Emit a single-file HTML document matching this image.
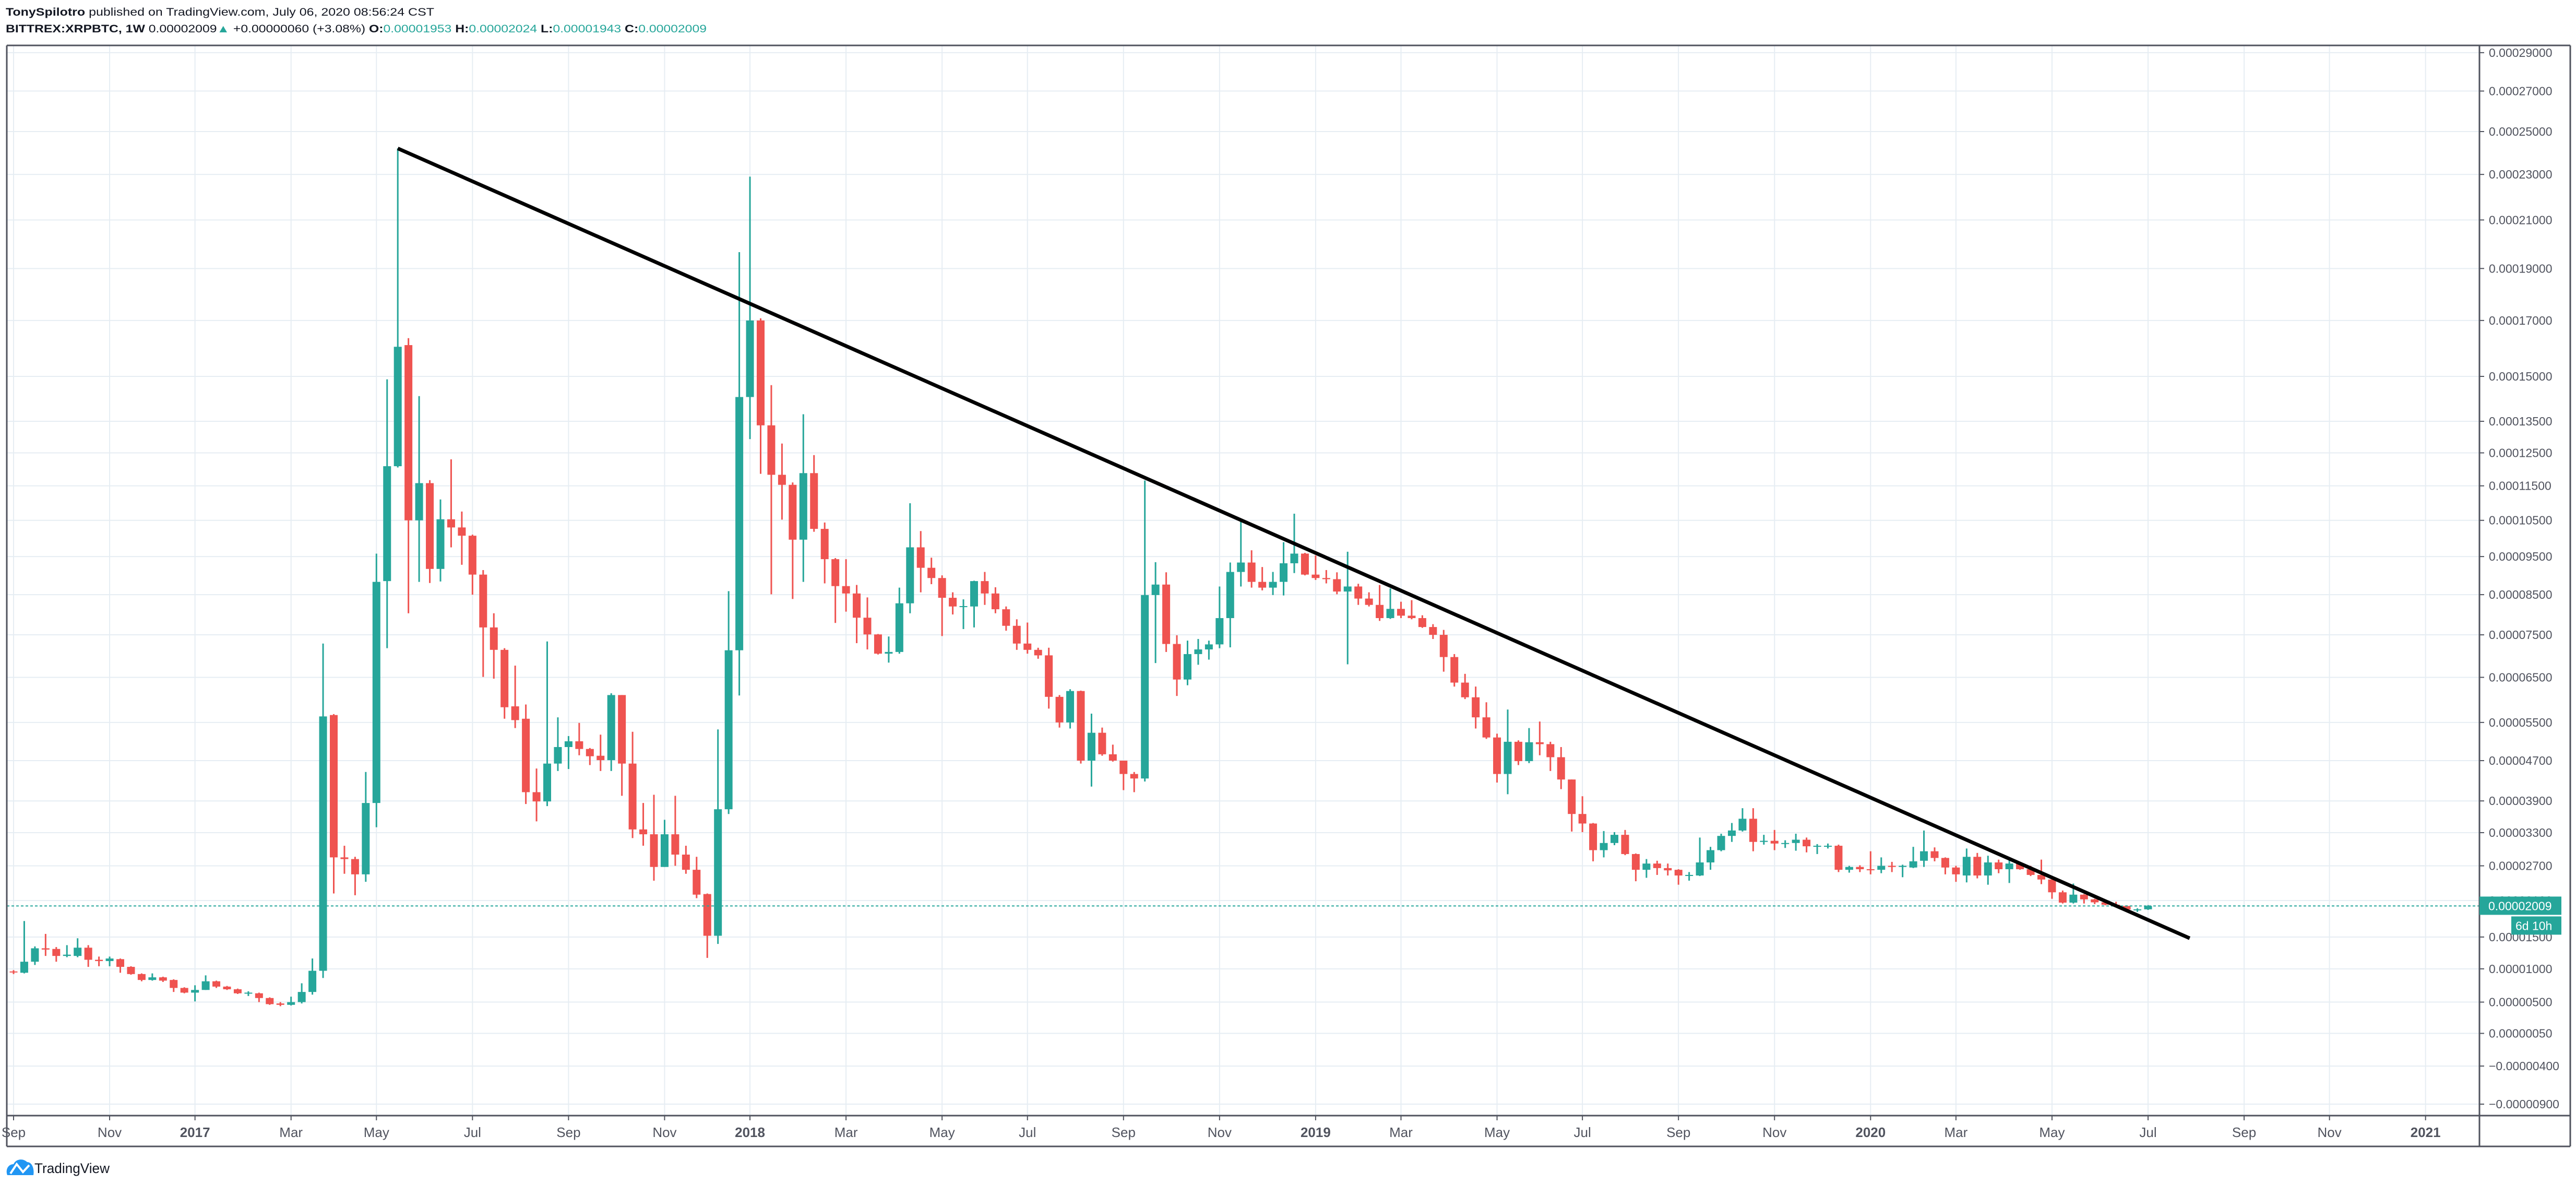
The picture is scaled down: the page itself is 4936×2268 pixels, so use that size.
<!DOCTYPE html>
<html><head><meta charset="utf-8"><style>
html,body{margin:0;padding:0;background:#fff;}
svg{display:block;}
text{font-family:"Liberation Sans",sans-serif;}
</style></head><body>
<svg id="chart" width="4936" height="2268" viewBox="0 0 4936 2268" xmlns="http://www.w3.org/2000/svg">
<rect x="0" y="0" width="4936" height="2268" fill="#ffffff"/>
<g>
<text x="11" y="30" font-size="21" fill="#131722" textLength="821" lengthAdjust="spacingAndGlyphs"><tspan font-weight="bold">TonySpilotro</tspan> published on TradingView.com, July 06, 2020 08:56:24 CST</text>
<text x="11" y="62" font-size="21" fill="#131722" textLength="1343" lengthAdjust="spacingAndGlyphs"><tspan font-weight="bold">BITTREX:XRPBTC, 1W</tspan> 0.00002009<tspan fill="#26a69a">▲</tspan> +0.00000060 (+3.08%) <tspan font-weight="bold">O:</tspan><tspan fill="#26a69a">0.00001953</tspan> <tspan font-weight="bold">H:</tspan><tspan fill="#26a69a">0.00002024</tspan> <tspan font-weight="bold">L:</tspan><tspan fill="#26a69a">0.00001943</tspan> <tspan font-weight="bold">C:</tspan><tspan fill="#26a69a">0.00002009</tspan></text>
</g>
<defs><clipPath id="plotclip"><rect x="13" y="88" width="4738" height="2048"/></clipPath></defs>
<g id="grid"></g>
<g id="candles" clip-path="url(#plotclip)"></g>
<g id="overlay" clip-path="url(#plotclip)"></g>
<g id="axes"></g>
<g>
<path d="M14 2251 C10 2240 16 2230 26 2230 C30 2220 44 2218 52 2226 C62 2226 66 2240 64 2251 Z" fill="#2196f3"/>
<polyline points="20,2248 32,2230 44,2245 56,2232" fill="none" stroke="#ffffff" stroke-width="4"/>
<text x="66" y="2247" font-size="27" fill="#131722" textLength="144" lengthAdjust="spacingAndGlyphs">TradingView</text>
</g>
</svg>
<script>
var opens=[9.6,9.4,11.1,13.2,13.1,12.0,12.0,13.3,11.4,11.2,11.5,10.3,9.2,8.3,8.7,8.3,7.1,6.4,6.8,8.1,7.3,6.9,6.3,6.3,5.6,4.8,4.6,5.0,6.5,9.7,56.6,28.5,28.2,25.5,38.6,88.5,120.9,161,105,115.8,91.7,105.3,103,100.7,90.2,76.8,71.4,58.5,55.8,40.7,38.9,46.4,49.8,51,49.4,48,47.1,61,46.4,33.6,32.7,26.8,32.7,29,26.3,22.1,15.2,37.4,71.3,143,170,133.7,118.3,115.3,99.6,118.8,102.6,94.3,87.2,85.3,79.2,75.1,70.5,70.9,82.8,97.5,92,89.3,84.2,82,82,88.5,85.3,81.3,77.2,72.9,71.4,70.1,60.6,55,61.9,47,52.8,48.3,47,44.3,43.4,84.9,87.6,72.8,64.5,70.4,71.5,72.7,79.1,90.9,93.4,88.3,86.8,88.3,93.2,95.8,90.2,89.3,89,85.8,87.1,84,82.4,79.1,81.4,79.7,79.1,76.9,75,69.7,63.8,60.5,56.1,51.8,44.3,50.9,46.9,50.8,50.4,47.7,43.2,36.5,34.7,29.8,31.1,32.6,29.1,26.3,27.4,26.6,26.3,25.3,25.3,27.6,29.8,32.4,33.4,35.6,31.3,31.5,31,31.1,31.7,30.5,30.6,30.6,26.3,26.8,26.4,26.3,27,26.8,26.7,27.9,29.6,28.4,26.7,25.3,28.6,25.3,27.6,26.4,27.4,26.4,25.4,24.6,22.4,20.65,22,21.2,20.7,20.3,20.1,19.5,19.53];
var highs=[9.8,17.6,13.5,15.5,13.4,13.7,14.8,13.7,11.9,11.9,11.6,10.4,9.3,9.3,8.8,8.4,7.2,7.5,9.0,8.2,7.4,7.0,6.6,6.4,5.7,5.0,5.8,7.8,11.6,72.9,56.8,30.6,28.6,44.7,95.8,149,242,163.5,143.3,116.7,111,123,107.5,101,91.4,80.3,71.8,67.7,58.9,45.4,73.4,56.1,52.1,54.9,49.6,52.4,61.4,61,53,38.6,40.2,35.4,40,30.6,28.6,22.2,53.5,85.9,196.6,229,170.8,147,127.9,116,137.3,124.3,104.4,94.6,94.3,87.5,84.3,75.2,74.6,86.8,109.9,102,94.7,90,85.6,83.8,88.6,90.9,86.9,82,78.8,78,71.9,71.9,61,62.3,62,56.9,53.9,50.3,47,44.7,116.6,93.5,90.8,74.9,73.6,74,73.6,87.1,93.4,104.7,96.7,92.2,90.9,98.9,106.9,96,95.3,91.4,90.8,96.3,87.8,85.6,87.5,86.6,83.2,83.6,79.8,77.6,76.2,70.4,65.8,62.9,59.4,52.6,57.8,51.2,53.8,55.2,50.9,49.8,43.2,39.9,34.8,33.3,33.1,33.5,29.2,28.2,27.9,27.4,26.4,25.9,32.1,30.4,32.8,34.8,37.6,37.6,32.6,33.5,31.6,32.8,32.1,30.9,31,30.8,27,27.1,29.6,28.5,27.7,27.2,30.4,33.4,30.3,28.5,27,30.1,29.3,28.8,28.1,28,27.6,27,28.1,24.7,22.7,23.9,22.1,21.3,20.9,20.8,20.2,19.7,20.24];
var lows=[9.2,9.3,10.6,12.0,11.1,11.8,11.8,10.3,10.4,10.4,9.4,9.1,8.1,8.2,8.0,6.5,6.3,5.1,6.8,7.1,6.8,6.2,5.9,5.0,4.6,4.4,4.5,4.8,6.1,8.6,22.2,25.6,21.9,24.2,34,71.8,120.5,80.3,88.3,88,88.4,97.5,92.8,85,65.1,64.7,55.8,53.8,38.4,35.1,38,44.9,45.3,48.1,46.1,44.9,44.9,40,32,30.6,24.4,26.8,27,25.6,21.4,11.7,13.9,36.5,60.9,129.3,118.6,85.1,105.2,83.9,88.3,101.8,87.9,77.9,80.7,73,71.5,70.3,68.4,70.5,80.3,85.6,87.7,74.7,80,76.4,76.8,82.4,80.3,76,71.4,70.5,69.3,58,53.9,53.7,46.4,41.8,48,46.8,41.1,40.7,42.8,68.3,70.9,60.8,63.2,67.9,69.1,71.8,72,87.1,86.8,86.1,84.9,84.8,90.6,90,88.8,87.9,85.1,68,82.4,82,78.4,78.9,79.1,78.8,76.7,74,66.3,62.9,60.1,53.7,51.5,42.6,40.3,46.1,46.5,48.1,44.9,41.3,33.2,33.1,27.8,28.5,30.7,28.9,24.3,24.9,25.4,25.3,23.7,24.4,25.2,26.3,29.6,31.3,33.2,29.6,30.8,29.8,30.2,29.7,29.4,29.1,30.1,25.9,25.8,25.9,25.5,25.7,25.9,25,26.6,26.8,27.8,25.5,24.2,24.1,24.8,23.7,25.7,24,26.3,25.2,23.8,21.3,20.5,20.5,20.5,20.4,20.2,20,19.4,19.1,19.43];
var closes=[9.5,11.1,13.2,13.0,12.0,12.2,13.3,11.4,11.2,11.6,10.3,9.2,8.3,8.7,8.2,7.1,6.4,6.8,8.1,7.3,6.9,6.3,6.4,5.6,4.7,4.6,5.0,6.5,9.7,56.3,28.5,28.2,25.5,38.6,88.3,120.9,160.4,105,115.8,91.7,105.3,103,100.7,90.2,76.8,71.4,58.3,55.5,40.7,38.9,46.4,49.8,51,49.4,47.9,47.1,61,46.4,33.6,32.7,26.8,32.7,29,26.3,22,15.2,37.4,71.3,143,170,133.7,118.3,115.3,99.6,118.8,102.6,94.3,87.2,85.3,79.2,75.1,70.5,70.9,82.8,97.5,92,89.3,84.2,82,82.1,88.5,85.3,81.3,77.2,72.9,71.4,70.1,60.6,55,61.9,47,52.8,48.3,47,44.3,43.4,84.9,87.6,72.8,64.5,70.4,71.5,72.7,79.1,90.9,93.4,88.3,86.8,88.3,93.2,95.8,90.2,89.3,89,85.8,87.1,84,82.4,79.1,81.4,79.7,79.1,76.9,75,69.7,63.8,60.5,56.1,51.8,44.3,50.9,46.9,50.8,50.4,47.7,43.2,36.5,34.7,29.8,31.1,32.6,29.1,26.3,27.4,26.6,26.2,25.3,25.4,27.6,29.8,32.4,33.4,35.6,31.3,31.5,31.0,31.1,31.7,30.5,30.6,30.6,26.3,26.8,26.4,26.3,27,26.8,27,27.8,29.6,28.4,26.7,25.5,28.6,25.3,27.6,26.4,27.4,26.4,25.4,24.6,22.4,20.65,22,21.2,20.7,20.3,20.1,19.5,19.53,20.09];
var priceTicks=[290,270,250,230,210,190,170,150,135,125,115,105,95,85,75,65,55,47,39,33,27,21,15,10,5,0.5,-4,-9];
var monthNames=["Jan","Feb","Mar","Apr","May","Jun","Jul","Aug","Sep","Oct","Nov","Dec"];
var lastPrice=20.09;
var trendStart=[36,242];
var trendEnd=[203.9,14.8];

var NS="http://www.w3.org/2000/svg";
var X0=26, STEP=20.45, PL=13, PR=4751, PT=88, PB=2137;
var startDate=Date.UTC(2016,8,5);
function xIdx(i){return X0+i*STEP;}
function yP(p){return 8512-1408*Math.log(p+103);}
function mk(tag,attrs,parent){var e=document.createElementNS(NS,tag);for(var k in attrs)e.setAttribute(k,attrs[k]);parent.appendChild(e);return e;}
var grid=document.getElementById('grid'),cg=document.getElementById('candles'),ov=document.getElementById('overlay'),ax=document.getElementById('axes');

priceTicks.forEach(function(v){
  var y=yP(v);
  var gl=mk('line',{x1:PL,x2:PR,y1:y,y2:y,stroke:'#e6edf3','stroke-width':2},grid);
  
  
  var tk=mk('line',{x1:PR,x2:PR+9,y1:y,y2:y,stroke:'#50535e','stroke-width':2},ax);
  
  
  var t=mk('text',{x:4769,y:y+8,'font-size':23,fill:'#50535e'},ax);
  
  
  t.textContent=(v<0?'\u2212':'')+(Math.abs(v)/1e6).toFixed(8);
});

var nWeeks=240,prevM=-1;
for(var i=0;i<nWeeks;i++){
  var d=new Date(startDate+i*7*86400000);
  var m=d.getUTCMonth();
  if(m!==prevM){
    var x=xIdx(i);
    if((m%2===0||i===0) && x<PR-30){
      var isYear=(m===0);
      var vl=mk('line',{x1:x,x2:x,y1:PT,y2:PB,stroke:'#e6edf3','stroke-width':2},grid);
      
      
      var tk2=mk('line',{x1:x,x2:x,y1:PB,y2:PB+9,stroke:'#50535e','stroke-width':2},ax);
      
      
      var lt=mk('text',{x:x,y:2178,'font-size':26,fill:'#50535e','text-anchor':'middle','font-weight':isYear?'bold':'normal'},ax);
      
      
      lt.textContent=isYear?String(d.getUTCFullYear()):monthNames[m];
    }
    prevM=m;
  }
}

var bw=15;
for(var j=0;j<closes.length;j++){
  var o=opens[j],c=closes[j],h=highs[j],l=lows[j];
  var col=c>=o?'#26a69a':'#ef5350';
  var cx=xIdx(j);
  var wk=mk('line',{x1:cx,x2:cx,y1:yP(h),y2:yP(l),stroke:col,'stroke-width':3},cg);
  
  
  var yt=Math.min(yP(o),yP(c)),yb=Math.max(yP(o),yP(c));
  var bd=mk('rect',{x:cx-bw/2,y:yt,width:bw,height:Math.max(2,yb-yt),fill:col},cg);
  
  
}

var ly=yP(lastPrice);
var pl=mk('line',{x1:PL,x2:PR,y1:ly,y2:ly,stroke:'#26a69a','stroke-width':2,'stroke-dasharray':'5 4'},ov);



var tl=mk('line',{x1:xIdx(trendStart[0]),y1:yP(trendStart[1]),x2:xIdx(trendEnd[0]),y2:yP(trendEnd[1]),stroke:'#000000','stroke-width':7,'stroke-linecap':'butt'},ov);



var fr=[[PL,PT-1,4925,PT-1],[PL,PT-1,PL,2196],[PL,2196,4925,2196],[4925,PT-1,4925,2196],[PL,PB,4925,PB],[PR,PT-1,PR,2196]];
fr.forEach(function(s){
  var f=mk('line',{x1:s[0],y1:s[1],x2:s[2],y2:s[3],stroke:'#50535e','stroke-width':3},ax);
  
  
});

var b1=mk('rect',{x:PR,y:ly-18,width:157,height:35,fill:'#26a69a'},ax);


var bt=mk('text',{x:4768,y:ly+8,'font-size':23,fill:'#ffffff'},ax);


bt.textContent=(lastPrice/1e6).toFixed(8);
var b2=mk('rect',{x:4812,y:ly+20,width:96,height:35,fill:'#26a69a'},ax);


var ct=mk('text',{x:4820,y:ly+46,'font-size':23,fill:'#ffffff'},ax);


ct.textContent='6d 10h';
</script>
</body></html>
